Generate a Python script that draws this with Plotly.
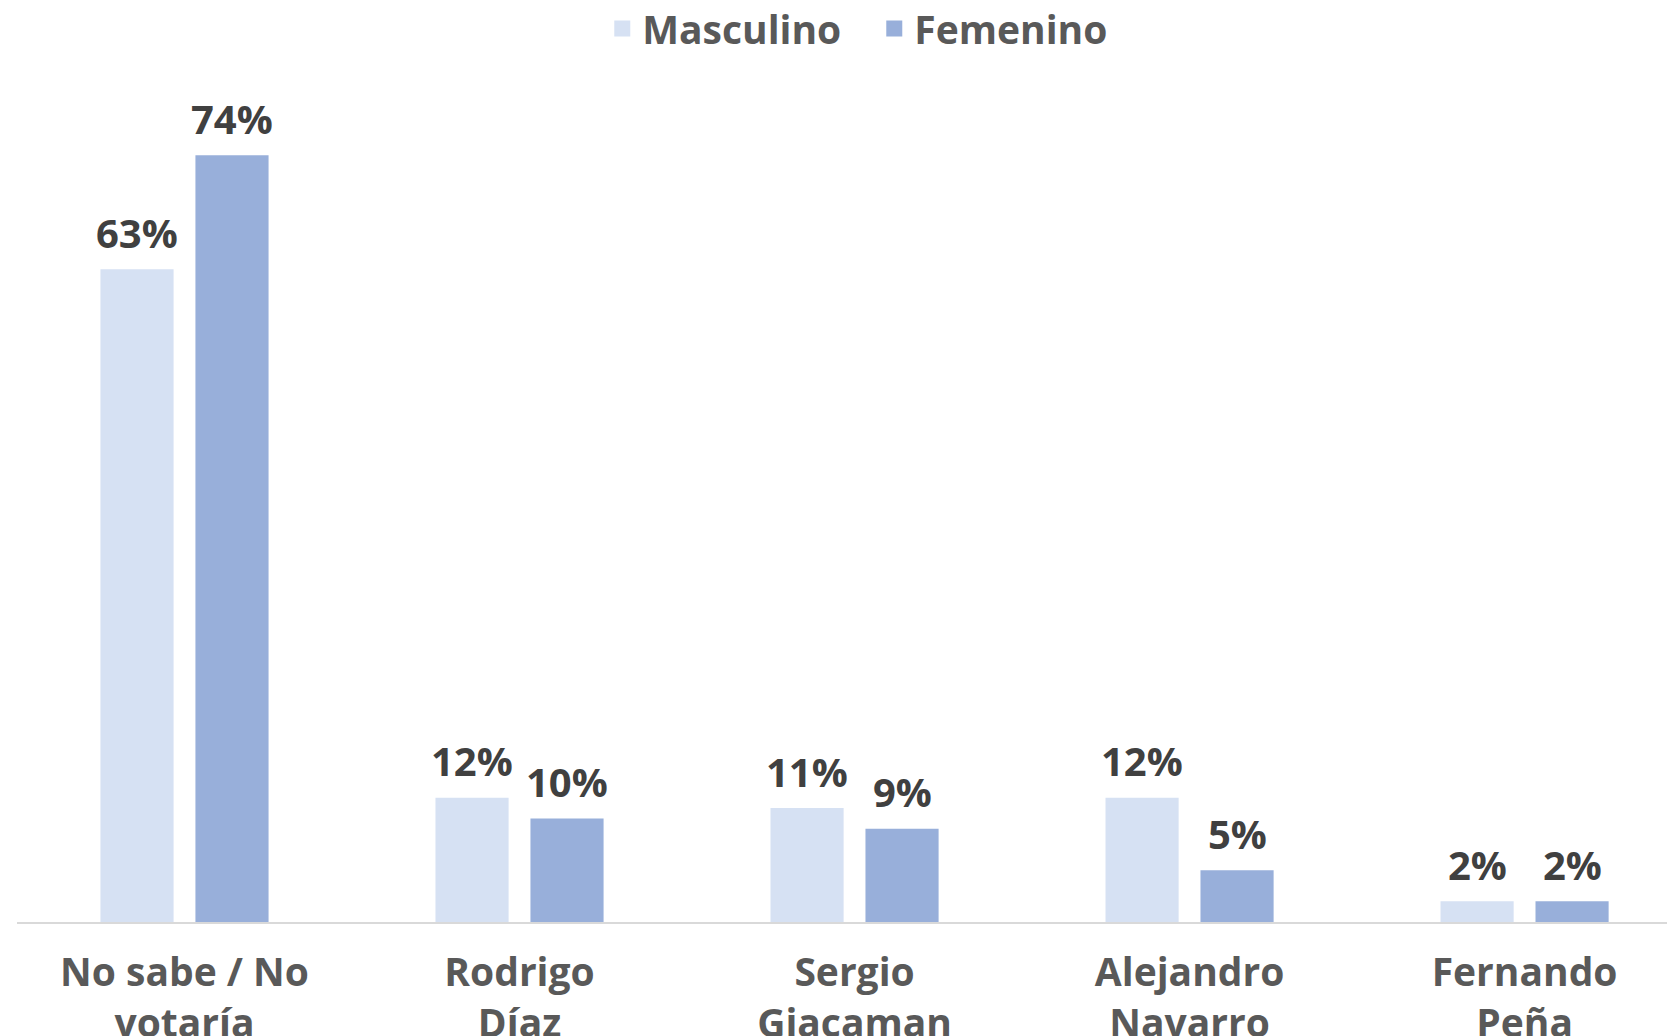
import plotly.graph_objects as go

categories = ["No sabe / No<br>votaría", "Rodrigo<br>Díaz", "Sergio<br>Giacaman", "Alejandro<br>Navarro", "Fernando<br>Peña"]
series_names = ["Masculino", "Femenino"]
masculino = [63, 12, 11, 12, 2]
femenino = [74, 10, 9, 5, 2]

FONT = "Open Sans"
LABEL_COLOR = "#404040"
COLORS = ["#D6E1F3", "#98AFDA"]

BAR_SLOT_PX = 47.5  # half of one bar slot, used to place labels over each bar

fig = go.Figure()
for name, vals, col in zip(series_names, [masculino, femenino], COLORS):
    fig.add_trace(go.Bar(
        name=name, x=categories, y=vals, showlegend=False,
        marker=dict(color=col, line=dict(width=0)),
    ))
# legend entries with larger square swatches
for name, col in zip(series_names, COLORS):
    fig.add_trace(go.Scatter(
        name=name, x=[None], y=[None], mode="markers",
        marker=dict(symbol="square", size=16, color=col),
        showlegend=True, hoverinfo="skip",
    ))

# data labels
for k, vals in enumerate([masculino, femenino]):
    shift = -BAR_SLOT_PX if k == 0 else BAR_SLOT_PX
    for c, v in zip(categories, vals):
        fig.add_annotation(
            x=c, y=v, xref="x", yref="y", text=f"{v}%",
            showarrow=False, xshift=shift, yshift=37, yanchor="middle",
            font=dict(family=FONT, size=40, color=LABEL_COLOR, weight="bold"),
        )

fig.update_layout(
    width=1667, height=1028,
    paper_bgcolor="white", plot_bgcolor="white",
    margin=dict(l=9, r=0, t=85, b=114),
    barmode="group", bargap=0.433, bargroupgap=0.23,
    font=dict(family=FONT, color="#595959"),
    legend=dict(
        orientation="h", x=0.353, xanchor="left",
        yref="container", y=0.98, yanchor="middle",
        font=dict(family=FONT, size=39, color="#595959", weight="bold"),
        itemwidth=30, traceorder="normal", entrywidth=227, itemsizing="trace",
    ),
    showlegend=True,
)
fig.update_xaxes(
    range=[-0.5, 4.449], automargin=False,
    showline=True, linecolor="#D9D9D9", linewidth=2,
    showgrid=False, zeroline=False, ticks="",
    tickfont=dict(family=FONT, size=39, color="#595959", weight="bold"),
    ticklabelstandoff=15,
)
fig.update_yaxes(
    range=[0, 80], visible=False, showgrid=False, zeroline=False, automargin=False,
)

fig.write_html("out.html")
